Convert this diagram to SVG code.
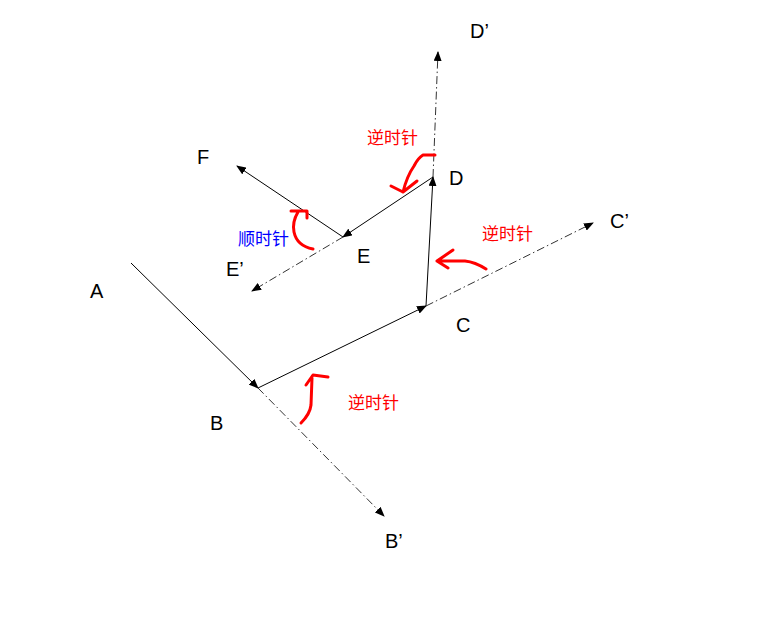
<svg xmlns="http://www.w3.org/2000/svg" width="765" height="630" viewBox="0 0 765 630">
<style>
.lbl{font-family:"Liberation Sans",Arial,sans-serif;font-size:20px;fill:#000}
.cn{font-family:"Noto Sans CJK SC","Liberation Sans",sans-serif;font-size:17px}
.solid{stroke:#000;stroke-width:1;fill:none}
.dash{stroke:#333;stroke-width:1;fill:none;stroke-dasharray:8 3 1.5 3}
.red{stroke:#f00;stroke-width:3;fill:none;stroke-linecap:round;stroke-linejoin:round}
</style>
<defs>
<marker id="ah" markerWidth="10" markerHeight="8" refX="9" refY="4" orient="auto" markerUnits="userSpaceOnUse">
<path d="M0,0 L10,4 L0,8 Z" fill="#000"/>
</marker>
</defs>
<rect width="765" height="630" fill="#fff"/>
<g id="connectors">
<line class="solid" x1="131" y1="263" x2="258" y2="388" marker-end="url(#ah)"/>
<line class="solid" x1="258" y1="388" x2="426" y2="306" marker-end="url(#ah)"/>
<line class="solid" x1="426" y1="306" x2="433" y2="177" marker-end="url(#ah)"/>
<line class="solid" x1="433" y1="177" x2="343" y2="237" marker-end="url(#ah)"/>
<line class="solid" x1="343" y1="237" x2="237" y2="166" marker-end="url(#ah)"/>
<line class="dash" x1="258" y1="388" x2="384" y2="516" marker-end="url(#ah)"/>
<line class="dash" x1="426" y1="306" x2="593" y2="223" marker-end="url(#ah)"/>
<line class="dash" x1="433" y1="177" x2="438" y2="52" marker-end="url(#ah)"/>
<line class="dash" x1="343" y1="237" x2="252" y2="291" marker-end="url(#ah)"/>
</g>
<g id="rotations">
<path class="red" d="M435,155 L423,155 Q418,158 414,166 Q407,176 403,192 M391,186 L403,192 L417,181"/>
<path class="red" d="M291,211 L307,211 L307,218 M298,212 Q292,222 294,232 Q297,246 313,249"/>
<path class="red" d="M486,269 Q475,262 465,261 L437,261 M453,250 L437,261 L448,268"/>
<path class="red" d="M301,423 Q310,414 311,405 L312,378 M306,385 L313,375 L328,377"/>
</g>
<g id="labels">
<text class="lbl" x="90" y="298">A</text>
<text class="lbl" x="210" y="430">B</text>
<text class="lbl" x="385" y="548">B’</text>
<text class="lbl" x="456" y="332">C</text>
<text class="lbl" x="610" y="228">C’</text>
<text class="lbl" x="449" y="185">D</text>
<text class="lbl" x="470" y="38">D’</text>
<text class="lbl" x="357" y="263">E</text>
<text class="lbl" x="226" y="276">E’</text>
<text class="lbl" x="197" y="164">F</text>
<text class="cn" x="367" y="144" fill="#f00">逆时针</text>
<text class="cn" x="482" y="240" fill="#f00">逆时针</text>
<text class="cn" x="348" y="409" fill="#f00">逆时针</text>
<text class="cn" x="238" y="245" fill="#00f">顺时针</text>
</g>
</svg>
